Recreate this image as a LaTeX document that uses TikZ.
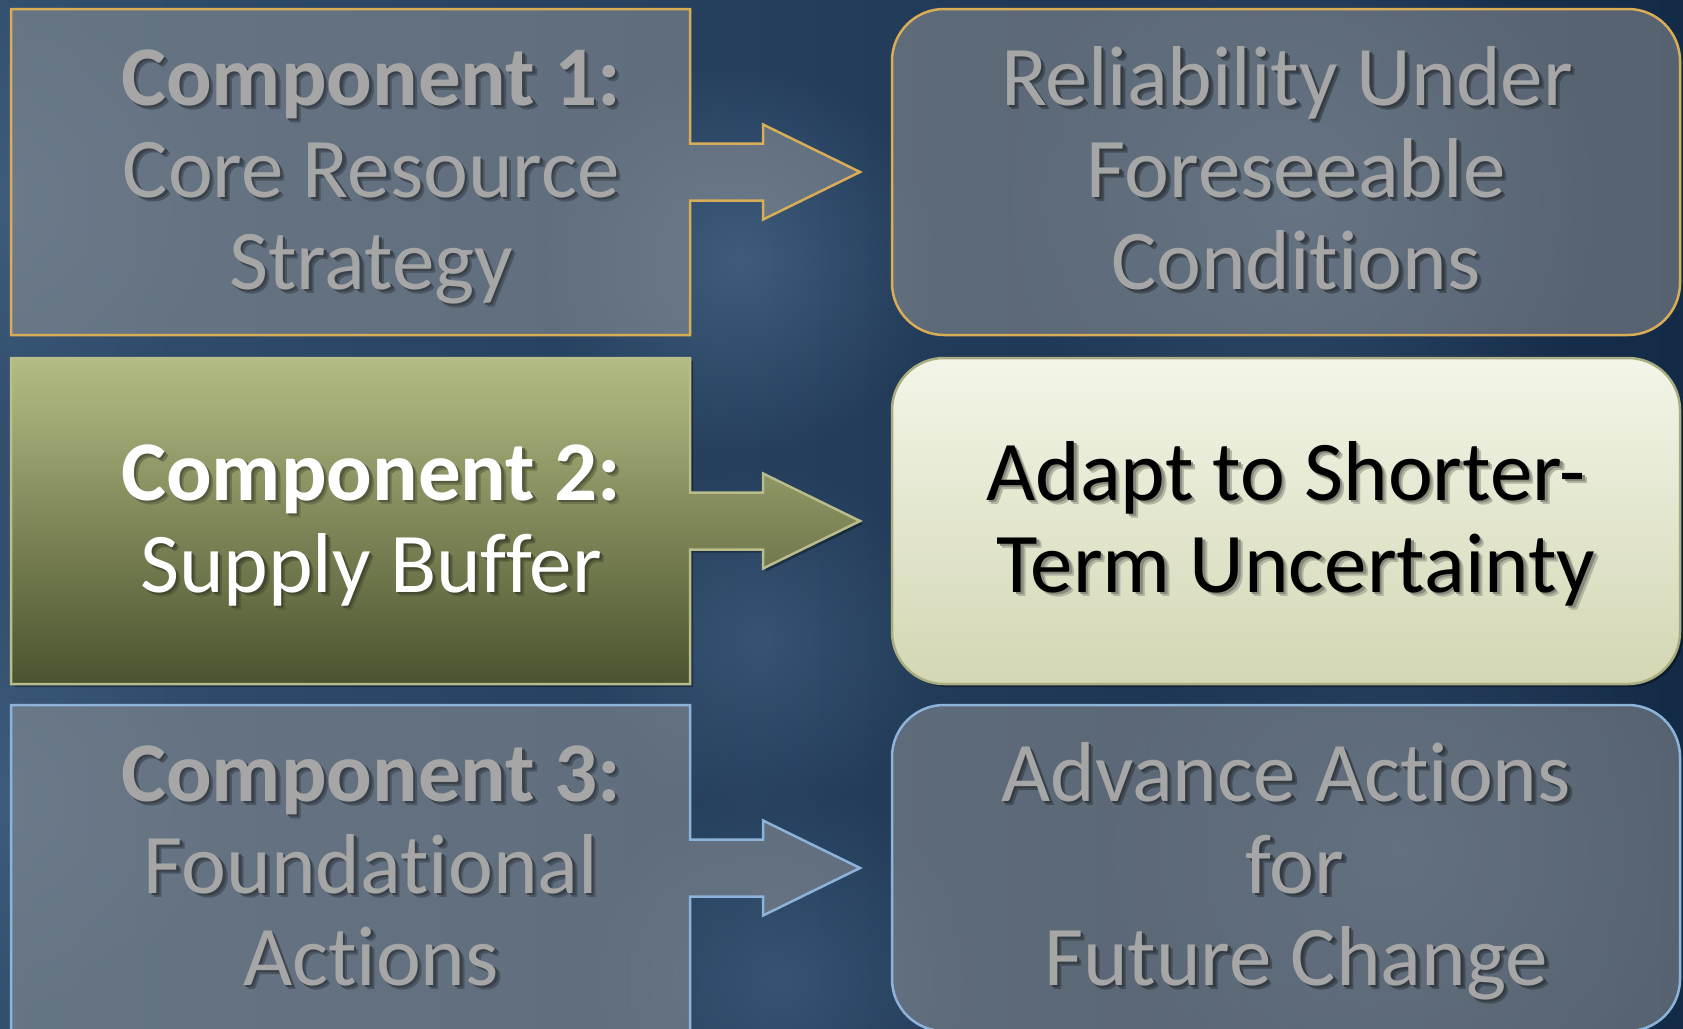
\documentclass[tikz,border=0pt]{standalone}
\usepackage{fontspec}
\setmainfont{Carlito}[Ligatures=NoCommon]
\usetikzlibrary{shadows,fadings}
\tikzfading[name=glowfade, inner color=transparent!0, outer color=transparent!100]
\definecolor{gold}{HTML}{D8AD56}
\definecolor{lblue}{HTML}{8DB3DA}
\definecolor{fadetxt}{HTML}{A6A6A6}
\definecolor{fadefill}{HTML}{9A9A9A}
\definecolor{olvtop}{HTML}{B4BC84}
\definecolor{olvbot}{HTML}{4B532F}
\definecolor{olvline}{HTML}{B9BD8B}
\definecolor{crmtop}{HTML}{F3F5E8}
\definecolor{crmbot}{HTML}{D3D7B3}
\definecolor{crmline}{HTML}{A9AD7F}
\definecolor{bgL}{HTML}{324F6E}
\definecolor{bgR}{HTML}{142B47}
\definecolor{glow}{HTML}{4A6888}
% backgrounds behind texts (for the text shadows)
\definecolor{fbgL}{HTML}{5F6D7C}
\definecolor{fbgR}{HTML}{56636F}
\definecolor{obgA}{HTML}{8D9564}
\definecolor{obgB}{HTML}{70784D}
\definecolor{cbg}{HTML}{E3E6CD}
% text with a soft shadow, in one node: name, x, y, text colour, colour behind, text
\newcommand\shtext[6]{%
  \node[txt,anchor=base] (#1) at (#2,#3) {%
    \makebox[0pt][l]{\hspace*{4.5pt}\raisebox{-4.5pt}{\textcolor{#5!78!black}{#6}}}%
    \makebox[0pt][l]{\hspace*{2.5pt}\raisebox{-2.5pt}{\textcolor{#5!60!black}{#6}}}%
    \textcolor{#4}{#6}};}
\begin{document}
\begin{tikzpicture}[x=1pt,y=-1pt,
  txt/.style={inner sep=0pt, font=\fontsize{85}{92}\selectfont},
  fadedbox/.style={fill=fadefill, fill opacity=0.5, line width=2.5pt},
  rbox/.style={rounded corners=52pt, minimum width=788pt, minimum height=326pt, inner sep=0pt},
  boxshadow/.style={drop shadow={shadow xshift=3pt, shadow yshift=-3pt, opacity=0.35, fill=black}}]
\useasboundingbox (0,0) rectangle (1683,1028);
\begin{scope}
\clip (0,0) rectangle (1683,1028);
% background
\shade[left color=bgL, right color=bgR] (0,0) rectangle (1683,1028);
\fill[glow, path fading=glowfade, opacity=0.7] (740,260) circle (200);
\fill[glow, path fading=glowfade, opacity=0.5] (760,640) circle (180);
\fill[glow, path fading=glowfade, opacity=0.5] (780,980) circle (200);
\fill[glow, path fading=glowfade, opacity=0.5] (0,200) circle (220);
\fill[glow, path fading=glowfade, opacity=0.5] (0,800) circle (220);
\fill[glow, path fading=glowfade, opacity=0.5] (1300,200) circle (300);
\fill[glow, path fading=glowfade, opacity=0.4] (1400,850) circle (300);

% row 1
\path[fadedbox, draw=gold] (11,9) -- (690,9) -- (690,143.5) -- (763,143.5) -- (763,124.5)
  -- (860,172) -- (763,219.5) -- (763,200.5) -- (690,200.5) -- (690,335) -- (11,335) -- cycle;
\node[rbox, fadedbox, draw=gold] (r1) at (1286,172) {};

% row 2
\path[boxshadow, top color=olvtop, bottom color=olvbot, draw=olvline, line width=2.5pt]
  (11,358) -- (690,358) -- (690,492.5) -- (763,492.5) -- (763,473.5)
  -- (860,521) -- (763,568.5) -- (763,549.5) -- (690,549.5) -- (690,684) -- (11,684) -- cycle;
\node[rbox, boxshadow, top color=crmtop, bottom color=crmbot, draw=crmline, line width=2.5pt] (r2) at (1286,521) {};

% row 3
\path[fadedbox, draw=lblue] (11,705) -- (690,705) -- (690,839.5) -- (763,839.5) -- (763,820.5)
  -- (860,868) -- (763,915.5) -- (763,896.5) -- (690,896.5) -- (690,1031) -- (11,1031) -- cycle;
\node[rbox, fadedbox, draw=lblue] (r3) at (1286,868) {};

% texts row 1
\shtext{la1}{371}{105}{fadetxt}{fbgL}{\textbf{Component 1:}}
\shtext{la2}{371}{197}{fadetxt}{fbgL}{Core Resource}
\shtext{la3}{371}{289}{fadetxt}{fbgL}{Strategy}
\shtext{ra1}{1287}{105}{fadetxt}{fbgR}{Reliability Under}
\shtext{ra2}{1296}{197}{fadetxt}{fbgR}{Foreseeable}
\shtext{ra3}{1296}{289}{fadetxt}{fbgR}{Conditions}
% texts row 2
\shtext{lb1}{371}{500}{white}{obgA}{\textbf{Component 2:}}
\shtext{lb2}{371}{592}{white}{obgB}{Supply Buffer}
\shtext{rb1}{1286}{500}{black}{cbg}{Adapt to Shorter-}
\shtext{rb2}{1296}{592}{black}{cbg}{Term Uncertainty}
% texts row 3
\shtext{lc1}{371}{801}{fadetxt}{fbgL}{\textbf{Component 3:}}
\shtext{lc2}{371}{893}{fadetxt}{fbgL}{Foundational}
\shtext{lc3}{371}{985}{fadetxt}{fbgL}{Actions}
\shtext{rc1}{1286}{801}{fadetxt}{fbgR}{Advance Actions}
\shtext{rc2}{1295}{893}{fadetxt}{fbgR}{for}
\shtext{rc3}{1296}{985}{fadetxt}{fbgR}{Future Change}
\end{scope}
\end{tikzpicture}
\end{document}
